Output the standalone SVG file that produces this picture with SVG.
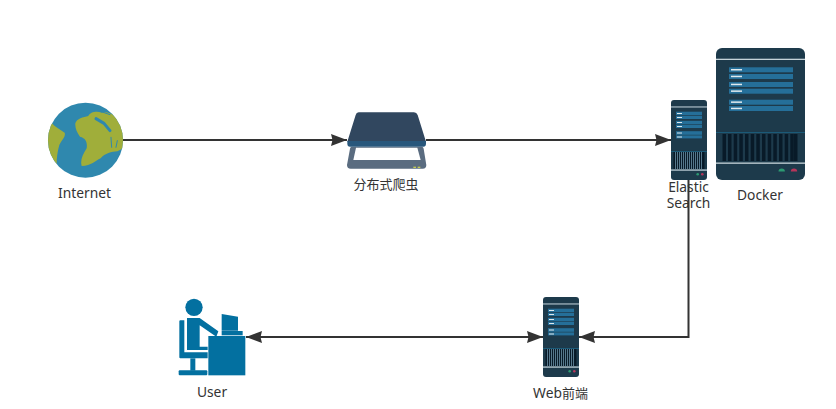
<svg xmlns="http://www.w3.org/2000/svg" xmlns:xlink="http://www.w3.org/1999/xlink" width="836" height="409" viewBox="0 0 836 409">
<style>
text{font-family:"Noto Sans","Noto Sans CJK SC",sans-serif;font-size:13.800px;fill:#333;text-anchor:middle}
.zh{font-size:13px}
.c{fill:none;stroke:#333;stroke-width:2}
.body{fill:#1d3a4b}
.row{fill:#256f99}
.tick{fill:#dfe9ee}
.band{fill:#8fa3ae}
.vent{fill:#081a28}
.u{fill:#0370a0}
.ch{fill:none;stroke:#2f88ae;stroke-linecap:round;stroke-linejoin:round}
</style>
<defs>
<marker id="a" markerUnits="userSpaceOnUse" markerWidth="17" markerHeight="13" refX="16" refY="6.500" orient="auto-start-reverse"><path d="M0 .5 L16 6.500 L0 12.500 L1.500 6.500 Z" fill="#333"/></marker>
<clipPath id="gl"><circle cx="85.500" cy="140.200" r="37.500"/></clipPath>
<g id="server">
<rect class="body" width="36" height="80" rx="3"/>
<rect class="band" y="6.200" width="36" height="1.500"/>
<g class="row"><rect x="5" y="11.700" width="26" height="3.600"/><rect x="5" y="16" width="26" height="3"/><rect x="5" y="20.800" width="26" height="3.600"/><rect x="5" y="25" width="26" height="3"/><rect x="5" y="31.200" width="26" height="3.600"/><rect x="5" y="35.400" width="26" height="3"/></g>
<g class="tick"><rect x="6" y="13" width="5" height="1"/><rect x="6" y="17" width="5" height="1"/><rect x="6" y="22" width="5" height="1"/><rect x="6" y="26" width="5" height="1"/><rect x="6" y="32.500" width="5" height="1"/><rect x="6" y="36.500" width="5" height="1"/></g>
<rect y="51" width="36" height="1" fill="#1b5a78"/>
<rect class="vent" x="2.500" y="52" width="31" height="17"/>
<path d="M4.500 52V69M6.500 52V69M8.500 52V69M10.500 52V69M12.500 52V69M14.500 52V69M16.500 52V69M18.500 52V69M20.500 52V69M22.500 52V69M24.500 52V69M26.500 52V69M28.500 52V69M30.500 52V69" stroke="#56788c" stroke-width="1"/>
<rect class="band" y="69.200" width="36" height="1.800"/>
<circle cx="26.700" cy="74.300" r="1.300" fill="#2c9a72"/><circle cx="31.300" cy="74.300" r="1.300" fill="#b5355a"/>
</g>
</defs>
<g id="internet">
<circle cx="85.500" cy="140.200" r="37.500" fill="#2f88ae"/>
<g clip-path="url(#gl)">
<g transform="translate(30 90) scale(.3333)" fill="#a0ae3a">
<path d="M136 100 C140 85 160 82 175 78 C180 66 200 62 215 68 C250 60 285 100 285 150 C285 170 275 180 262 184 C245 185 225 190 212 205 C195 212 185 228 155 228 C150 210 158 195 170 175 C172 160 170 145 150 140 C140 125 135 115 136 100Z"/>
<path d="M50 150 C50 130 58 112 64 96 C72 110 90 118 104 128 C108 140 95 150 88 165 C82 185 80 205 80 222 C65 205 50 180 50 150Z"/>
<path class="ch" stroke-width="9" d="M198 86L222 100L240 122"/>
<path class="ch" stroke-width="3" d="M214 65L240 74"/>
<path class="ch" stroke-width="3" d="M243 142L245 172"/>
<path class="ch" stroke-width="3" d="M262 152L258 172"/>
</g>
</g>
<text x="84.500" y="198">Internet</text>
</g>
<g id="crawler">
<g transform="translate(330 100) scale(.3333)">
<path d="M65 140H275Q280 140 281 146L289 195Q289 206 278 206H62Q51 206 51 195L60 146Q61 140 65 140Z" fill="#5a6c80"/>
<path d="M78 143H262L272 180H70Z" fill="#fff"/>
<rect x="250" y="200" width="8" height="4" fill="#c5cc55"/><rect x="263" y="200" width="8" height="4" fill="#c5cc55"/>
<path d="M86 37H252Q260 37 263 45L288 125H52L77 45Q79 37 86 37Z" fill="#31475f"/>
<path d="M52 123H288V131Q288 140 280 140H60Q52 140 52 131Z" fill="#28577c"/>
</g>
<text class="zh" x="386" y="189">分布式爬虫</text>
</g>
<g id="elastic">
<use href="#server" xlink:href="#server" x="671" y="100"/>
<text x="688.500" y="192">Elastic</text>
<text x="688.500" y="208">Search</text>
</g>
<g id="docker">
<rect class="body" x="716" y="48" width="89" height="132" rx="6"/>
<rect x="716" y="58.700" width="89" height="1.300" fill="#c6d3d9"/>
<g class="row"><rect x="729" y="67.300" width="64" height="5"/><rect x="729" y="74" width="64" height="5"/><rect x="729" y="82" width="64" height="5"/><rect x="729" y="88.700" width="64" height="5"/><rect x="729" y="99.700" width="64" height="5"/><rect x="729" y="106" width="64" height="5"/></g>
<g class="tick"><rect x="731" y="69" width="11" height="1.500"/><rect x="731" y="75.700" width="11" height="1.500"/><rect x="731" y="83.700" width="11" height="1.500"/><rect x="731" y="90.400" width="11" height="1.500"/><rect x="731" y="101.400" width="11" height="1.500"/><rect x="731" y="107.700" width="11" height="1.500"/></g>
<rect x="716" y="132" width="89" height="1" fill="#1b5a78"/>
<path class="vent" d="M722.500 134h3.500v27h-3.500zM728 134h3.500v27h-3.500zM733.700 134h3.500v27h-3.500zM739.300 134h3.500v27h-3.500zM745 134h3.500v27h-3.500zM750.700 134h3.500v27h-3.500zM756.300 134h3.500v27h-3.500zM762 134h3.500v27h-3.500zM767.700 134h3.500v27h-3.500zM773.300 134h3.500v27h-3.500zM779 134h3.500v27h-3.500zM784.700 134h3.500v27h-3.500zM790.300 134h3.500v27h-3.500zM794 134h3.500v27h-3.500z"/>
<rect x="716" y="162.500" width="89" height="1.300" fill="#c6d3d9"/>
<path d="M778.500 171.500a3.200 3 0 0 1 6.400 0z" fill="#2c9a72"/>
<path d="M790.800 171.500a3.200 3 0 0 1 6.400 0z" fill="#b5355a"/>
<text x="760" y="200">Docker</text>
</g>
<g id="web">
<use href="#server" xlink:href="#server" x="543" y="297"/>
<text x="560.500" y="398">Web<tspan class="zh">前端</tspan></text>
</g>
<g id="user">
<g transform="translate(165 290) scale(.3333)" class="u">
<circle cx="87" cy="52" r="26"/>
<path d="M66 84H104L160 124L154 140L104 106V170H128V180H66Z"/>
<path d="M43 94Q43 91 46 91H58V187H128V205H46Q43 205 43 202Z"/>
<rect x="76" y="205" width="15" height="37"/>
<rect x="41" y="241" width="86" height="15" rx="3"/>
<rect x="130" y="138" width="111" height="118"/>
<path d="M170 72L219 80V122H170Z"/>
<rect x="170" y="123" width="63" height="13"/>
</g>
<text x="212" y="397">User</text>
</g>
<g id="connectors">
<path class="c" d="M123 140H347" marker-end="url(#a)"/>
<path class="c" d="M426 140H671" marker-end="url(#a)"/>
<path class="c" d="M688.500 180V337H579" marker-end="url(#a)"/>
<path class="c" d="M246 337H543" marker-start="url(#a)" marker-end="url(#a)"/>
</g>
</svg>
